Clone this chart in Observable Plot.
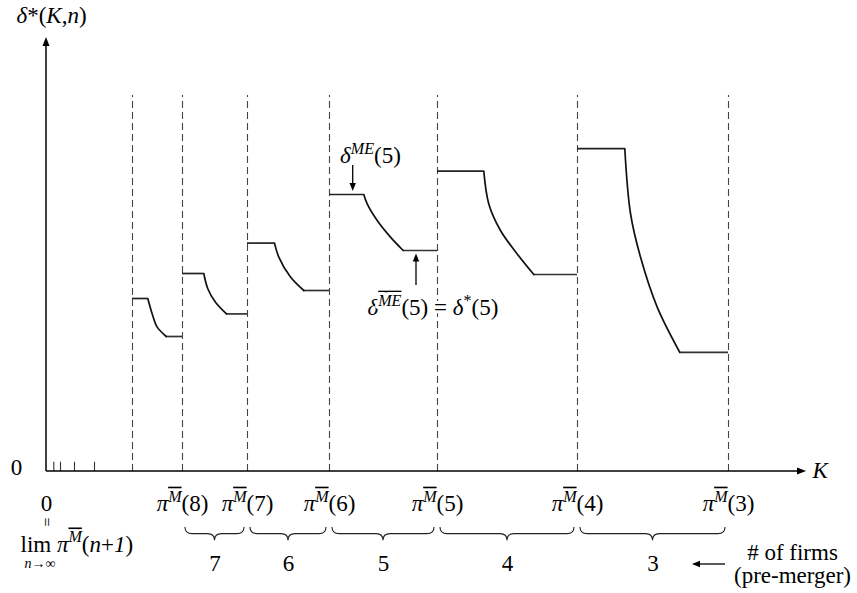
<!DOCTYPE html>
<html>
<head>
<meta charset="utf-8">
<script src="https://cdn.jsdelivr.net/npm/d3@7"></script>
<script src="https://cdn.jsdelivr.net/npm/@observablehq/plot@0.6"></script>
<style>
  html, body { margin: 0; padding: 0; background: #fff; }
  svg text, svg tspan { white-space: pre; font-family: "Liberation Serif", "Times New Roman", serif !important; }
</style>
</head>
<body>
<div id="chart"></div>
<script>
// ---------- data (K and δ in arbitrary units) ----------
const boundaries = [8.6, 13.6, 20.1, 28.3, 39.1, 53.1, 68.2];   // dashed lines π^M̄(n)
const tickN      = [8, 7, 6, 5, 4, 3];                             // labels for boundaries[1..]
const firms      = [7, 6, 5, 4, 3];                                // # of firms per interval
const smallTicks = [0.73, 1.4, 2.8, 4.8];
const flatTop    = [43.25, 49.5, 57.1, 69.25, 75.1, 80.7];
const kneeK      = [10.13, 15.73, 22.8, 31.73, 43.73, 57.83];
const flatBottom = [33.75, 39.4, 45.25, 55.25, 49.25, 29.8];
const curveEndK  = [11.97, 18.0, 25.73, 35.67, 48.73, 63.33];
const curve1 = [[10.13, 43.25], [10.57, 39.4], [11.07, 36.1], [11.97, 33.75]];
const curve2 = [[15.73, 49.5], [16.13, 45.7], [16.9, 42.3], [18.0, 39.4]];
const curve3 = [[22.8, 57.1], [23.23, 53.6], [24.4, 48.6], [25.73, 45.25]];
const curve4 = [[31.73, 69.25], [32.07, 66.9], [33.07, 62.75], [34.4, 58.6], [35.67, 55.25]];
const curve5 = [[43.73, 75.1], [44.23, 66.9], [45.4, 60.25], [47.07, 54.4], [48.73, 49.25]];
const curve6 = [[57.83, 80.7], [58.4, 64.5], [59.4, 53.6], [61.07, 41.1], [63.33, 29.8]];
const dashTop = 94;
const axisArrows = [{x1: 0, y1: 0, x2: 0, y2: 108.5}, {x1: 0, y1: 0, x2: 76.0, y2: 0}];
const noteArrows = [
  {x1: 30.67, y1: 76.5, x2: 30.67, y2: 70.0},
  {x1: 37.0, y1: 46.5, x2: 37.0, y2: 54.4},
  {x1: 67.9, y1: -23.25, x2: 64.6, y2: -23.25}
];

// ---------- derived tables ----------
const curves = [curve1, curve2, curve3, curve4, curve5, curve6]
  .flatMap((c, s) => c.map(([K, d]) => ({s, K, d})));
const tops = flatTop.map((d, i) => ({x1: boundaries[i], x2: kneeK[i], y: d}));
const bottoms = flatBottom.map((d, i) => ({x1: curveEndK[i], x2: boundaries[i + 1], y: d}));
const tickBoundaries = boundaries.slice(1);
const intervals = firms.map((f, i) => ({a: tickBoundaries[i], b: tickBoundaries[i + 1], f}));

const FS = 23;
const FONT = "Liberation Serif";

// rich text specs (key = plain text shown before formatting)
const rich = {};
rich["δ*(K,n)"] = [["δ", "i"], ["*"], ["("], ["K", "i"], [","], ["n", "i"], [")"]];
rich["K"] = [["K", "i"]];
tickN.forEach(n => rich[`πM(${n})`] = [["π", "i"], ["M", "i^o"], [`(${n})`]]);
rich["lim πM(n+1)"] = [["lim "], ["π", "i"], ["M", "i^o"], ["("], ["n", "i"], ["+"], ["1", "i"], [")"]];
rich["n→∞"] = [["n", "i"], ["→∞"]];
rich["δME(5)"] = [["δ", "i"], ["ME", "i^"], ["(5)"]];
rich["δME(5) = δ*(5)"] = [["δ", "i"], ["ME", "i^o"], ["(5) = "], ["δ", "i"], ["*", "^"], ["(5)"]];

// ---------- custom marks ----------
function arrowMark(data, {stroke = "#000", width = 1.3, head = 8, half = 3.2} = {}) {
  return (index, scales) => {
    const g = d3.create("svg:g");
    for (const a of data) {
      const x1 = scales.x(a.x1), y1 = scales.y(a.y1), x2 = scales.x(a.x2), y2 = scales.y(a.y2);
      const ang = Math.atan2(y2 - y1, x2 - x1), c = Math.cos(ang), s = Math.sin(ang);
      const bx = x2 - head * c, by = y2 - head * s;
      g.append("line").attr("x1", x1).attr("y1", y1).attr("x2", bx + c).attr("y2", by + s)
        .attr("stroke", stroke).attr("stroke-width", width);
      g.append("polygon")
        .attr("points", `${x2},${y2} ${bx - half * s},${by + half * c} ${bx + half * s},${by - half * c}`)
        .attr("fill", stroke);
    }
    return g.node();
  };
}
function braceMark(data, {top = -14, bottom = -17.3, gap = 3, r = 7} = {}) {
  return (index, scales) => {
    const g = d3.create("svg:g");
    const y0 = scales.y(top), y1 = scales.y(bottom), ym = (y0 + y1) / 2;
    for (const d of data) {
      const a = scales.x(d.a) + gap, b = scales.x(d.b) - gap, m = (a + b) / 2;
      const p = `M${a},${y0} Q${a},${ym} ${a + r},${ym} L${m - r},${ym} Q${m},${ym} ${m},${y1}` +
                ` Q${m},${ym} ${m + r},${ym} L${b - r},${ym} Q${b},${ym} ${b},${y0}`;
      g.append("path").attr("d", p).attr("fill", "none").attr("stroke", "#222").attr("stroke-width", 1.1);
    }
    return g.node();
  };
}

const txt = (s, x, y, opts = {}) =>
  Plot.text([s], {x, y, text: d => d, fontSize: FS, fontFamily: FONT, fill: "#000", ...opts});

const plot = Plot.plot({
  width: 857,
  height: 593,
  margin: 0,
  x: {domain: [-4.6, 81.1], axis: null},
  y: {domain: [-30.5, 117.75], axis: null},
  style: {fontFamily: FONT, background: "#fff", color: "#000"},
  marks: [
    // dashed boundaries
    Plot.ruleX(boundaries, {x: d => d, y1: 0, y2: dashTop, stroke: "#444", strokeWidth: 1.1, strokeDasharray: "7,4"}),
    // small ticks near origin
    Plot.ruleX(smallTicks, {x: d => d, y1: 0, y2: 2.3, stroke: "#333", strokeWidth: 1.1}),
    // δ* step curves
    Plot.ruleY(tops, {x1: "x1", x2: "x2", y: "y", stroke: "#222", strokeWidth: 1.7}),
    Plot.ruleY(bottoms, {x1: "x1", x2: "x2", y: "y", stroke: "#333", strokeWidth: 1.7}),
    Plot.line(curves, {x: "K", y: "d", z: "s", curve: "catmull-rom", stroke: "#111", strokeWidth: 1.7}),
    // axes
    arrowMark(axisArrows, {width: 1.5, head: 9, half: 3.5}),
    // annotation arrows
    arrowMark(noteArrows, {width: 1.3, head: 8, half: 3.2}),
    // braces
    braceMark(intervals),
    // texts
    txt("δ*(K,n)", 0.5, 114),
    txt("0", -3.0, 0.9),
    txt("K", 76.6, 0.3, {textAnchor: "start"}),
    Plot.text(tickN, {x: (d, i) => tickBoundaries[i], y: -8, text: d => `πM(${d})`, fontSize: FS, fontFamily: FONT, fill: "#000"}),
    txt("0", 0, -8),
    txt("=", -0.05, -12.6, {rotate: 90, fontSize: 16}),
    txt("lim πM(n+1)", -2.6, -18.2, {textAnchor: "start"}),
    txt("n→∞", -0.65, -22.9, {fontSize: 14}),
    Plot.text(intervals, {x: d => (d.a + d.b) / 2, y: -23, text: d => String(d.f), fontSize: FS, fontFamily: FONT, fill: "#000"}),
    txt("# of firms", 74.6, -20.2),
    txt("(pre-merger)", 74.6, -26.0),
    txt("δME(5)", 32.4, 79),
    txt("δME(5) = δ*(5)", 32.1, 41, {textAnchor: "start", stroke: "#fff", strokeWidth: 6})
  ]
});

// ---------- rich text formatting (super/subscripts, italics, overlines) ----------
const NS = "http://www.w3.org/2000/svg";
plot.querySelectorAll("text").forEach(t => {
  const spec = rich[t.textContent];
  if (!spec) return;
  const fs = parseFloat(t.getAttribute("font-size") || t.parentNode.getAttribute("font-size")) || FS;
  while (t.firstChild) t.removeChild(t.firstChild);
  let cur = 0;
  for (const [s, st = ""] of spec) {
    const ts = document.createElementNS(NS, "tspan");
    ts.textContent = s;
    const target = st.includes("^") ? -0.4 * fs : st.includes("_") ? 0.25 * fs : 0;
    if (target !== cur) ts.setAttribute("dy", target - cur);
    cur = target;
    if (st.includes("^") || st.includes("_")) ts.setAttribute("font-size", 0.7 * fs);
    if (st.includes("i")) ts.setAttribute("font-style", "italic");
    if (st.includes("o")) ts.setAttribute("text-decoration", "overline");
    t.appendChild(ts);
  }
});

document.getElementById("chart").appendChild(plot);
</script>
</body>
</html>
